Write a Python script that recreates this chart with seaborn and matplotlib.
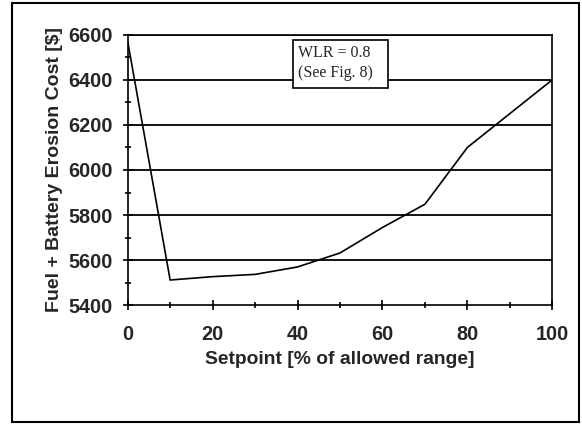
import matplotlib
matplotlib.use("Agg")
import matplotlib.pyplot as plt
import seaborn as sns
import pandas as pd
from matplotlib.ticker import MultipleLocator
from matplotlib.patches import Rectangle

setpoint = [0, 10, 20, 30, 40, 50, 60, 70, 80, 90, 100]
cost = [6570, 5512, 5527, 5537, 5570, 5632, 5745, 5848, 6100, 6250, 6400]
x_label = "Setpoint [% of allowed range]"
y_label = "Fuel + Battery Erosion Cost [$]"
note = "WLR = 0.8\n(See Fig. 8)"

df = pd.DataFrame({"setpoint": setpoint, "cost": cost})

sns.set_style("white")
plt.rcParams["font.family"] = ["Liberation Sans", "DejaVu Sans"]

fig = plt.figure(figsize=(5.82, 4.24), dpi=100)
ax = fig.add_axes([0.2194, 0.2800, 0.7296, 0.6382])

for yv in range(5600, 6601, 200):
    ax.axhline(yv, color="black", lw=1.3, zorder=1)

sns.lineplot(data=df, x="setpoint", y="cost", ax=ax, color="black", lw=1.2, zorder=3)

ax.set_xlim(0, 100)
ax.set_ylim(5400, 6600)
ax.xaxis.set_major_locator(MultipleLocator(20))
ax.xaxis.set_minor_locator(MultipleLocator(10))
ax.yaxis.set_major_locator(MultipleLocator(200))
ax.yaxis.set_minor_locator(MultipleLocator(100))
ax.tick_params(which="both", direction="inout", color="black", width=1.2)
ax.tick_params(which="major", length=7, labelsize=14.3)
ax.tick_params(which="minor", length=5)
ax.tick_params(axis="x", which="major", pad=11)
ax.tick_params(axis="y", which="major", pad=7)
ax.tick_params(axis="x", bottom=True, which="both")
ax.tick_params(axis="y", left=True, which="both")
for lab in ax.get_xticklabels() + ax.get_yticklabels():
    lab.set_fontweight("bold")

for s in ["left", "bottom", "right", "top"]:
    ax.spines[s].set_visible(True)
    ax.spines[s].set_color("black")
    ax.spines[s].set_linewidth(1.2)

ax.set_xlabel(x_label, fontsize=13.9, fontweight="bold", labelpad=5)
ax.set_ylabel(y_label, fontsize=14.0, fontweight="bold", labelpad=4)

ax.add_patch(Rectangle((0.389, 0.803), 0.224, 0.177, transform=ax.transAxes,
                       fc="white", ec="black", lw=1.2, zorder=4, clip_on=False))
ax.text(0.401, 0.962, note, transform=ax.transAxes, fontsize=11.5,
        family=["Liberation Serif", "DejaVu Serif"],
        va="top", ha="left", linespacing=1.3, zorder=5)

fig.patches.append(Rectangle((12/582, 2/424), 567/582, 419/424, transform=fig.transFigure,
                             fill=False, ec="black", lw=1.5))

fig.savefig("out.png", dpi=100)
